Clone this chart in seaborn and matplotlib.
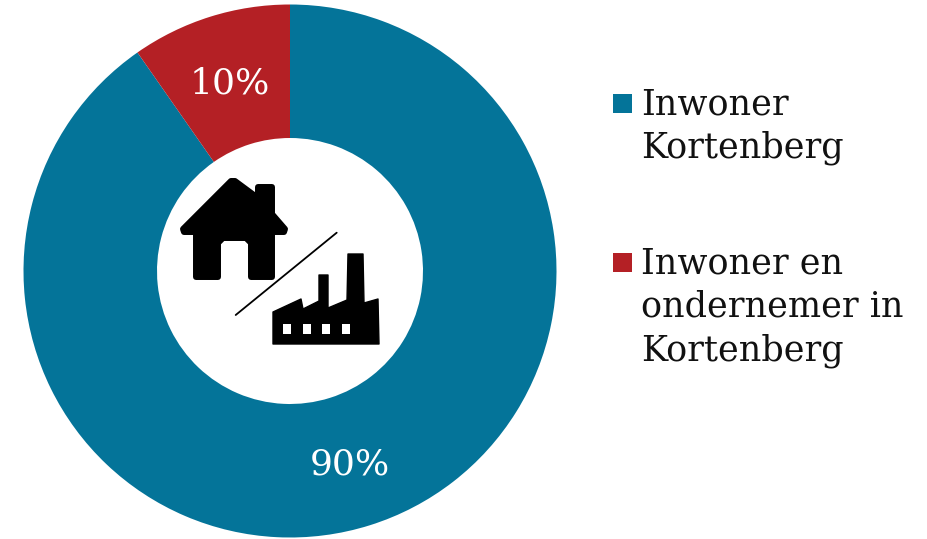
import matplotlib
matplotlib.use('Agg')
import matplotlib.pyplot as plt
from matplotlib.patches import Polygon, Rectangle
import seaborn as sns

categories = ['Inwoner\nKortenberg', 'Inwoner en\nondernemer in\nKortenberg']
values = [90.3, 9.7]
colors = ['#047499', '#B42025']

W, H = 928, 539
sns.set_theme(style='white')
plt.rcParams['font.family'] = ['DejaVu Serif']

def py(pts):
    # icon outlines were read in image pixels, y pointing down
    return [(x, H - y) for x, y in pts]

fig = plt.figure(figsize=(W / 100, H / 100), dpi=100)
ax = fig.add_axes([0, 0, 1, 1])

wedges, texts, pcts = ax.pie(values, colors=sns.color_palette(colors), startangle=90, counterclock=False,
                             center=(290, H - 271), radius=266.5, wedgeprops={'width': 133.5, 'linewidth': 0},
                             autopct='%.0f%%', pctdistance=0.75,
                             textprops={'color': 'white', 'fontsize': 26})
for t in pcts:
    x, y = t.get_position()
    t.set_position((x, y - 3))

ax.set_xlim(0, W)
ax.set_ylim(0, H)
ax.set_aspect('equal')
ax.axis('off')

# house icon
house = [(231, 181), (235, 181), (258, 198), (258, 187), (272, 187), (272, 214), (285, 229), (284, 232),
         (272, 232), (272, 277), (251, 277), (251, 243), (246, 238), (223, 238), (218, 243),
         (218, 277), (196, 277), (196, 232), (184, 232), (183, 229)]
ax.add_patch(Polygon(py(house), closed=True, facecolor='black', edgecolor='black',
                     linewidth=4.3, joinstyle='round'))

# factory icon
factory = [(273, 312), (301, 299), (303, 309), (319, 301), (319, 275), (328, 275), (328, 308),
           (347, 300), (348, 254), (363, 254), (364, 303), (378, 299), (379, 344), (273, 344)]
ax.add_patch(Polygon(py(factory), closed=True, facecolor='black', edgecolor='black',
                     linewidth=1, joinstyle='round'))
for wx in [283, 302.7, 322.3, 341.7]:
    ax.add_patch(Rectangle((wx, H - 334), 8, 10, facecolor='white', edgecolor='none'))

ax.plot([235.7, 336.7], [H - 315, H - 232.7], color='black', linewidth=1.3)

# legend
for label, color, sq_top, txt_top in zip(categories, colors, [94, 253], [87, 246]):
    ax.add_patch(Rectangle((613, H - sq_top - 19), 19, 19, facecolor=color, edgecolor='none'))
    ax.text(641, H - txt_top, label, fontsize=25.2, color='#111111', va='top', ha='left', linespacing=1.36)

fig.savefig('out.png', dpi=100, facecolor='white')
